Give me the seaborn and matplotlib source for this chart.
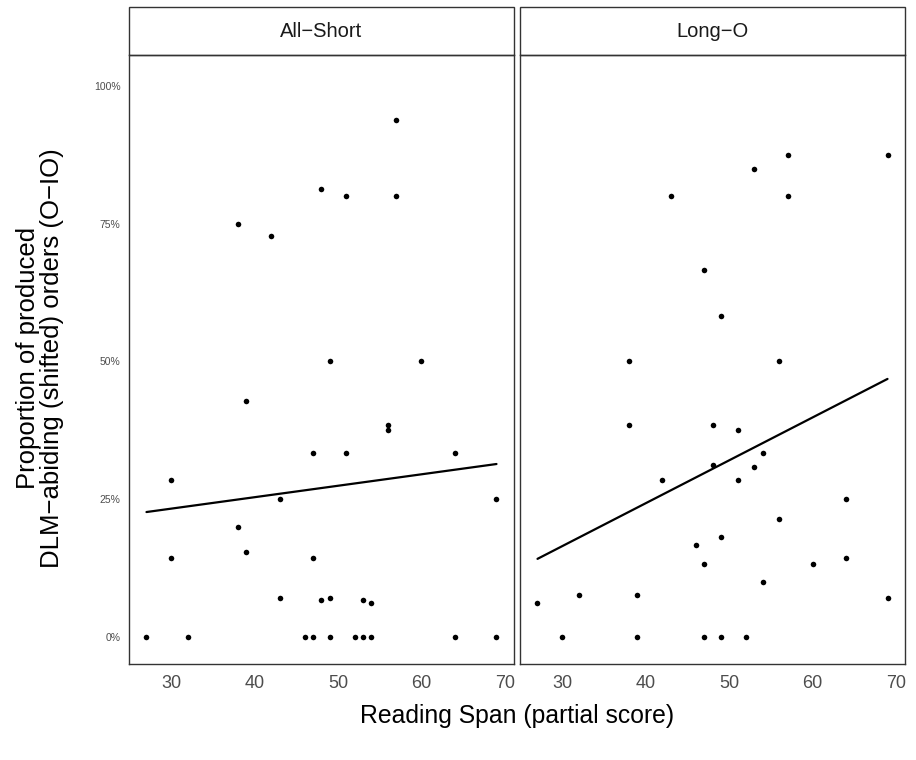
import numpy as np
import pandas as pd
import matplotlib
matplotlib.use("Agg")
import matplotlib.pyplot as plt
import seaborn as sns
from matplotlib.patches import Rectangle

# ---- data ----
panels = ["All\u2212Short", "Long\u2212O"]

allshort_span = [57, 48, 51, 57, 38, 42, 49, 60, 39, 56, 56, 47, 51, 64, 30, 69, 43, 38,
                 39, 30, 47, 43, 48, 49, 53, 54,
                 27, 32, 46, 47, 49, 52, 53, 54, 64, 69]
allshort_prop = [0.9375, 0.8125, 0.80, 0.80, 0.75, 0.7273, 0.50, 0.50, 0.4286, 0.3846,
                 0.375, 0.3333, 0.3333, 0.3333, 0.2857, 0.25, 0.25, 0.20,
                 0.1538, 0.1429, 0.1429, 0.0714, 0.0667, 0.0714, 0.0667, 0.0625,
                 0, 0, 0, 0, 0, 0, 0, 0, 0, 0]

longo_span = [57, 69, 53, 43, 57, 47, 49, 38, 56, 38, 48, 51, 54, 48, 53, 42, 51, 64,
              56, 49, 46, 47, 60, 64, 54, 32, 39, 27, 69,
              30, 39, 47, 49, 52]
longo_prop = [0.875, 0.875, 0.85, 0.80, 0.80, 0.6667, 0.5833, 0.50, 0.50, 0.3846, 0.3846,
              0.375, 0.3333, 0.3125, 0.3077, 0.2857, 0.2857, 0.25,
              0.2143, 0.1818, 0.1667, 0.1333, 0.1333, 0.1429, 0.10, 0.0769, 0.0769,
              0.0625, 0.0714,
              0, 0, 0, 0, 0]

x_ticks = [30, 40, 50, 60, 70]
y_ticks = [0, 0.25, 0.5, 0.75, 1.0]
y_ticklabels = ["0%", "25%", "50%", "75%", "100%"]

df = pd.DataFrame({
    "span": allshort_span + longo_span,
    "prop": allshort_prop + longo_prop,
    "cond": [panels[0]] * len(allshort_span) + [panels[1]] * len(longo_span),
})

sns.set_theme(style="white")
plt.rcParams["font.family"] = ["Liberation Sans", "DejaVu Sans"]

g = sns.FacetGrid(df, col="cond", col_order=panels, height=6, aspect=0.7,
                  sharex=True, sharey=True, despine=False)
g.map_dataframe(sns.regplot, x="span", y="prop", ci=None, truncate=True,
                scatter_kws=dict(s=16, color="black", linewidths=0, alpha=1),
                line_kws=dict(color="black", lw=1.6))

fig = g.figure
fig.set_size_inches(9.16, 7.6)
fig.subplots_adjust(left=0.1408, right=0.988, bottom=0.1263, top=0.9276, wspace=0.0156)

xmin, xmax = min(df["span"]), max(df["span"])
pad = 0.05 * (xmax - xmin)
for i, ax in enumerate(g.axes.flat):
    ax.set_xlim(xmin - pad, xmax + pad)
    ax.set_ylim(-0.049, 1.056)
    ax.set_xticks(x_ticks)
    ax.set_xticklabels([str(t) for t in x_ticks])
    ax.set_yticks(y_ticks)
    ax.set_yticklabels(y_ticklabels)
    ax.tick_params(axis="x", length=0, pad=8, labelsize=13, labelcolor="#4D4D4D")
    ax.tick_params(axis="y", length=0, pad=6, labelsize=7.5, labelcolor="#4D4D4D")
    if i > 0:
        ax.tick_params(axis="y", labelleft=False)
    ax.set_title("")
    ax.set_xlabel("")
    ax.set_ylabel("")
    for s in ax.spines.values():
        s.set_color("#333333")
        s.set_linewidth(1.0)
    ax.grid(False)
    # facet strip
    strip_h = 48 / 609
    ax.add_patch(Rectangle((0, 1), 1, strip_h, transform=ax.transAxes, clip_on=False,
                           facecolor="white", edgecolor="#333333", lw=1.0))
    ax.text(0.5, 1 + strip_h / 2, panels[i], transform=ax.transAxes,
            ha="center", va="center", fontsize=14.5, color="#1A1A1A")

fig.text(517 / 916, 1 - 716 / 760, "Reading Span (partial score)",
         ha="center", va="center", fontsize=17.8, color="black")
fig.text(40 / 916, 0.529,
         "Proportion of produced\nDLM\u2212abiding (shifted) orders (O\u2212IO)",
         ha="center", va="center", rotation=90, fontsize=18.5, color="black",
         multialignment="center", linespacing=1.0)

fig.savefig("out.png", dpi=100)
